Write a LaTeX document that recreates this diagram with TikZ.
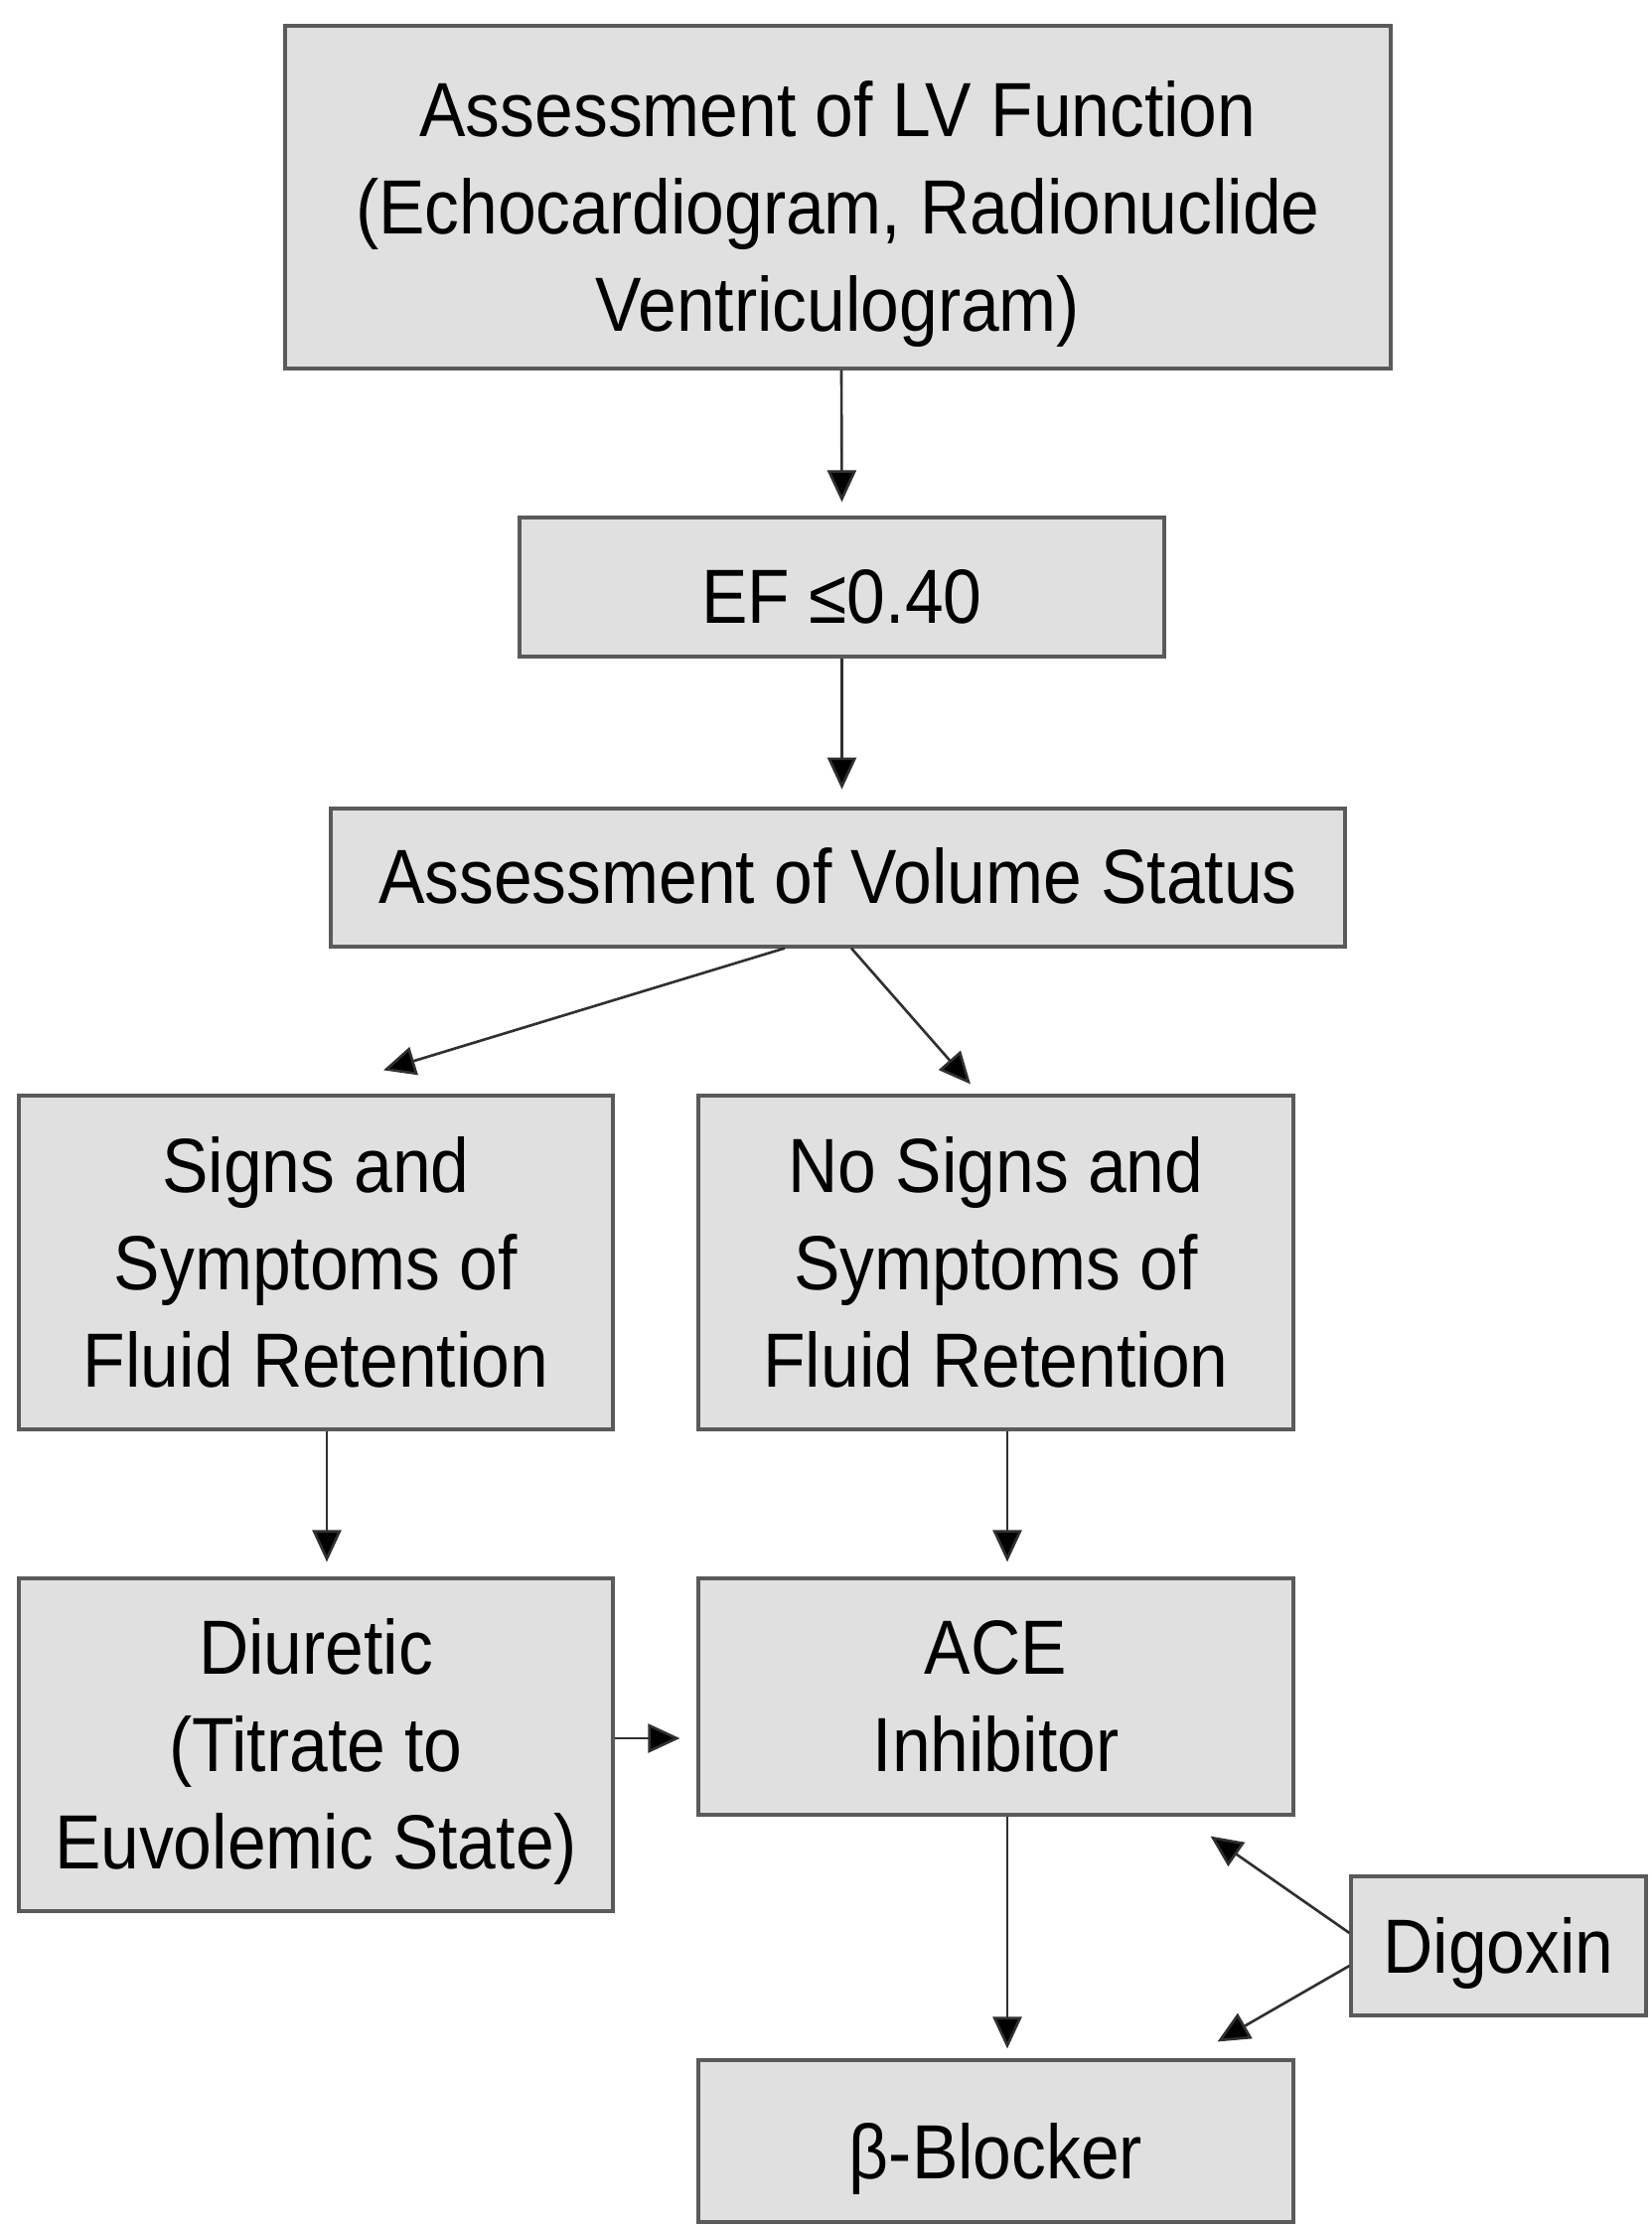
\documentclass[tikz,border=0pt]{standalone}
\usepackage{fontspec}
\setmainfont[FakeStretch=0.9]{Liberation Sans}
\newfontfamily\digfont[FakeStretch=0.9]{Liberation Sans}
\usetikzlibrary{arrows.meta,calc}
\definecolor{boxfill}{HTML}{E0E0E0}
\definecolor{boxline}{HTML}{5A5A5A}
\definecolor{arr}{HTML}{303030}
\tikzset{
  box/.style={draw=boxline, fill=boxfill, line width=0.9pt, inner sep=0pt},
  txt/.style={align=center, inner sep=0pt, font=\fontsize{22}{27.9}\selectfont, text=black},
  conn/.style={draw=arr, line width=0.75pt, -{Triangle[length=0.32cm,width=0.29cm,fill=black]}}
}
\begin{document}
\begin{tikzpicture}
\useasboundingbox (0,0) rectangle (16.63,-22.40);
\node[box, minimum width=11.13cm, minimum height=3.45cm,
  label={[txt,yshift=-0.17cm]center:{Assessment of LV Function\\(Echocardiogram, Radionuclide\\Ventriculogram)}}] (lv) at (8.435,-1.985) {};
\node[box, minimum width=6.49cm, minimum height=1.40cm,
  label={[txt,yshift=-0.1cm]center:{EF ≤0.40}}] (ef) at (8.475,-5.91) {};
\node[box, minimum width=10.21cm, minimum height=1.39cm,
  label={[txt,yshift=0.02cm]center:{Assessment of Volume Status}}] (vol) at (8.435,-8.835) {};
\node[box, minimum width=5.98cm, minimum height=3.36cm,
  label={[txt]center:{Signs and\\Symptoms of\\Fluid Retention}}] (signs) at (3.18,-12.71) {};
\node[box, minimum width=5.99cm, minimum height=3.36cm,
  label={[txt]center:{No Signs and\\Symptoms of\\Fluid Retention}}] (nosigns) at (10.025,-12.71) {};
\node[box, minimum width=5.98cm, minimum height=3.35cm,
  label={[txt,yshift=-0.07cm]center:{Diuretic\\(Titrate to\\Euvolemic State)}}] (diur) at (3.18,-17.565) {};
\node[box, minimum width=5.99cm, minimum height=2.38cm,
  label={[txt]center:{ACE\\Inhibitor}}] (ace) at (10.025,-17.08) {};
\node[box, minimum width=2.97cm, minimum height=1.40cm,
  label={[txt,font=\digfont\fontsize{22}{27.9}\selectfont,yshift=-0.07cm]center:{Digoxin}}] (dig) at (15.085,-19.59) {};
\node[box, minimum width=5.99cm, minimum height=1.63cm,
  label={[txt,yshift=-0.18cm]center:{β-Blocker}}] (beta) at (10.025,-21.555) {};

\coordinate (dstart) at ($(diur.east)+(0,0.065)$);
\coordinate (dend) at ($(dstart -| ace.west)+(-0.17,0)$);

\draw[conn] ($(lv.south)+(0.035,0)$) -- ($(ef.north)+(0,0.14)$);
\draw[conn] (ef.south) -- ($(ef.south)+(0,-1.32)$);
\draw[conn] ($(vol.south)+(-0.535,0)$) -- ($(signs.north)+(0.68,0.24)$);
\draw[conn] ($(vol.south)+(0.135,0)$) -- ($(nosigns.north)+(-0.255,0.10)$);
\draw[conn] ($(signs.south)+(0.11,0)$) -- ($(diur.north)+(0.11,0.15)$);
\draw[conn] ($(nosigns.south)+(0.115,0)$) -- ($(ace.north)+(0.115,0.15)$);
\draw[conn] (dstart) -- (dend);
\draw[conn] ($(ace.south)+(0.115,0)$) -- ($(beta.north)+(0.115,0.10)$);
\draw[conn] ($(dig.west)+(0,0.13)$) -- ($(ace.south east)+(-0.85,-0.20)$);
\draw[conn] ($(dig.west)+(0,-0.20)$) -- ($(beta.north east)+(-0.78,0.17)$);
\end{tikzpicture}
\end{document}
